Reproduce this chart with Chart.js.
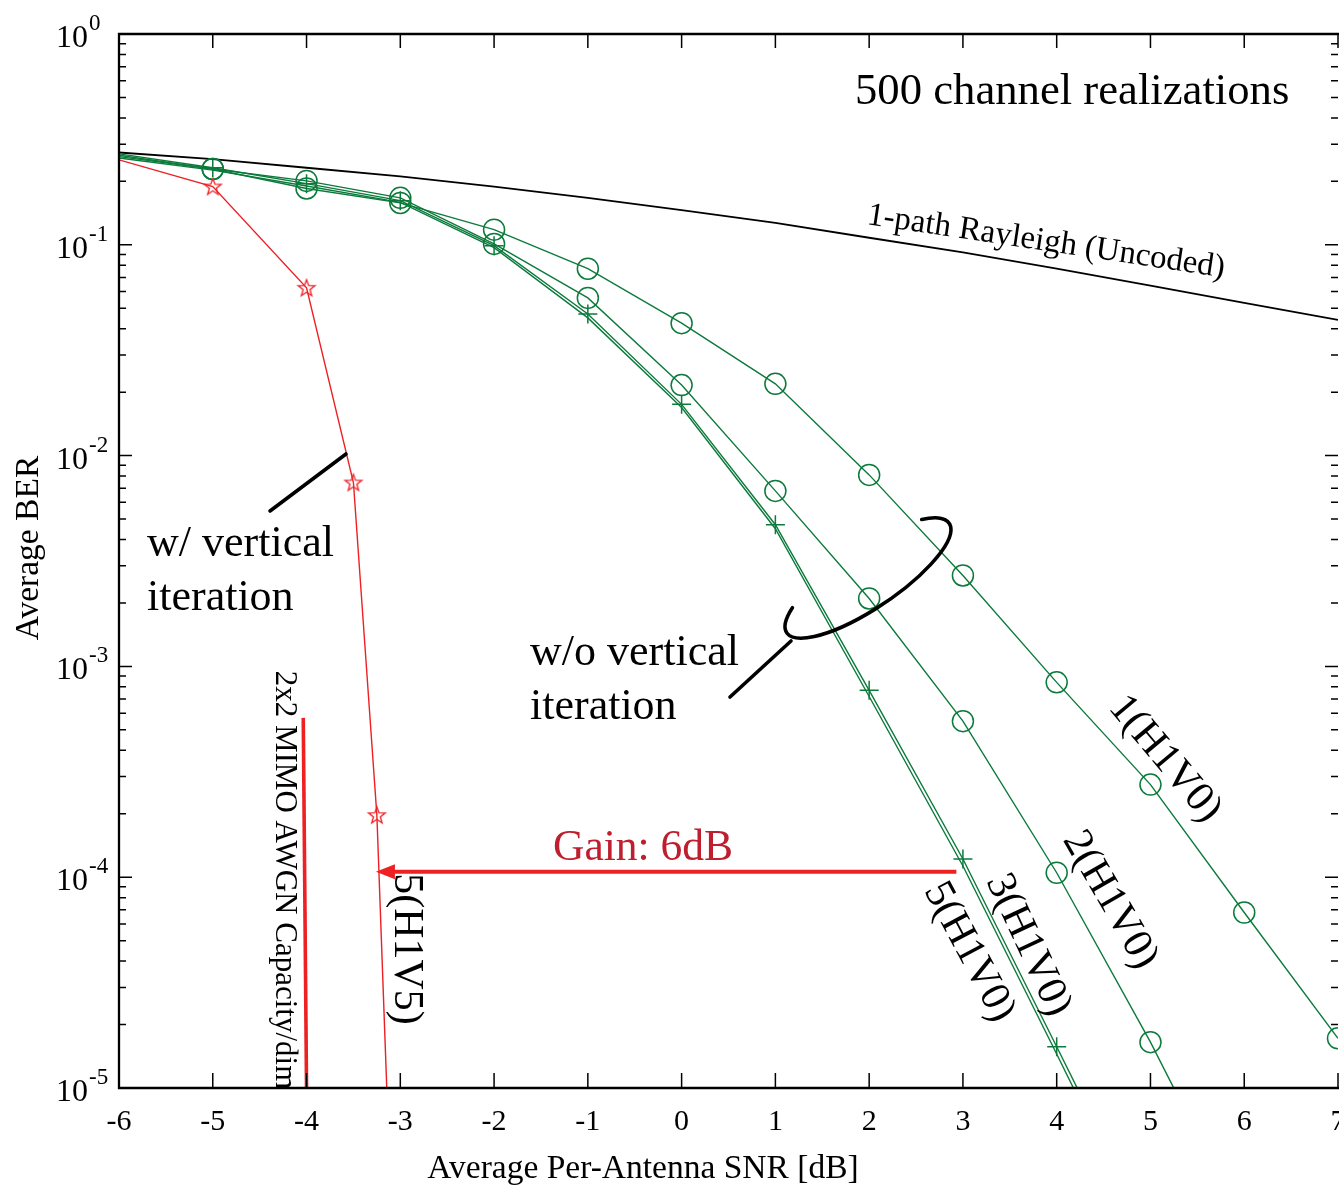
<!DOCTYPE html>
<html>
<head>
<meta charset="utf-8">
<script src="https://cdn.jsdelivr.net/npm/chart.js@4/dist/chart.umd.min.js"></script>
<style>
  html, body { margin: 0; padding: 0; background: #fff; }
  #wrap { width: 1339px; height: 1186px; }
</style>
</head>
<body>
<div id="wrap"><canvas id="c" width="1339" height="1186"></canvas></div>
<script>
// ---- data: average BER versus average per-antenna SNR [dB] ----
const snrGrid = [-6, -5, -4, -3, -2, -1, 0, 1, 2, 3, 4, 5, 6, 7];

// 1-path Rayleigh, uncoded
const berRayleigh = [0.274, 0.255, 0.232, 0.211, 0.189, 0.167, 0.146, 0.127, 0.108, 0.092, 0.077, 0.064, 0.053, 0.044];

// horizontal iterations only (H1V0), 1 / 2 / 3 / 5 iterations
const berH1V0_1 = [0.262, 0.229, 0.185, 0.158, 0.118, 0.077, 0.0425, 0.0219, 0.0081, 0.0027, 0.00084, 0.000275, 6.8e-5, 1.72e-5];
const berH1V0_2 = [0.266, 0.229, 0.201, 0.167, 0.101, 0.056, 0.0216, 0.0068, 0.0021, 0.00055, 0.000105, 1.65e-5, 2.2e-6];
const berH1V0_3 = [0.270, 0.232, 0.195, 0.162, 0.099, 0.047, 0.0175, 0.0047, 0.00077, 0.000122, 1.57e-5, 2.0e-6];
const berH1V0_5 = [0.258, 0.226, 0.190, 0.159, 0.097, 0.045, 0.0169, 0.0045, 0.00072, 0.000113, 1.45e-5, 1.8e-6];

// with vertical iterations (H1V5)
const snrH1V5 = [-6, -5, -4, -3.5, -3.25, -3];
const berH1V5 = [0.253, 0.189, 0.0625, 0.00745, 1.97e-4, 1.7e-7];

// 2x2 MIMO AWGN capacity per dimension
const snrCapacity = [-4.035, -4.0];
const berCapacity = [5.7e-4, 1e-5];

// gain arrow: from the 3(H1V0) curve to the 5(H1V5) curve at the same BER
const gainFromSnr = 2.93;
const gainToSnr = -3.26;
const gainBer = 1.06e-4;

// axes
const xTickValues = [-6, -5, -4, -3, -2, -1, 0, 1, 2, 3, 4, 5, 6, 7];
const yDecadeExponents = [0, -1, -2, -3, -4, -5];

// ---- styling ----
const SERIF = '"Liberation Serif", "Times New Roman", serif';
const GREEN = '#0b7a3b';
const RED = '#ed2024';
const DARK_RED = '#be1e2d';

const pts = (xs, ys) => ys.map((v, i) => ({ x: xs[i], y: v }));

// no marker at the left border point or below the plotted range
const markerRadius = r => ctx => (ctx.raw && ctx.raw.x > -6 && ctx.raw.y >= 1e-5) ? r : 0;

// outlined five-point star marker
function makeStar(color) {
  const c = document.createElement('canvas');
  c.width = 22; c.height = 22;
  const g = c.getContext('2d');
  const R = 8.8, r = 3.6, cx = 11, cy = 11.6;
  g.beginPath();
  for (let k = 0; k < 10; k++) {
    const rad = (k % 2 === 0) ? R : r;
    const a = -Math.PI / 2 + k * Math.PI / 5;
    const px = cx + rad * Math.cos(a), py = cy + rad * Math.sin(a);
    if (k === 0) g.moveTo(px, py); else g.lineTo(px, py);
  }
  g.closePath();
  g.strokeStyle = color;
  g.lineWidth = 1.3;
  g.stroke();
  return c;
}
const starMarker = makeStar(RED);

// ---- frame, inward ticks, tick labels, axis titles ----
const framePlugin = {
  id: 'frame',
  afterDatasetsDraw(chart) {
    const { ctx, chartArea: a, scales: { x, y } } = chart;
    ctx.save();
    ctx.strokeStyle = '#000';
    ctx.lineCap = 'butt';

    // ticks
    ctx.lineWidth = 1.5;
    ctx.beginPath();
    xTickValues.forEach(v => {
      const px = x.getPixelForValue(v);
      ctx.moveTo(px, a.top); ctx.lineTo(px, a.top + 14);
      ctx.moveTo(px, a.bottom); ctx.lineTo(px, a.bottom - 15);
    });
    yDecadeExponents.forEach(e => {
      const py = y.getPixelForValue(Math.pow(10, e));
      ctx.moveTo(a.left, py); ctx.lineTo(a.left + 13, py);
      ctx.moveTo(a.right, py); ctx.lineTo(a.right - 13, py);
      if (e < 0) {
        for (let m = 2; m <= 9; m++) {
          const pm = y.getPixelForValue(m * Math.pow(10, e));
          ctx.moveTo(a.left, pm); ctx.lineTo(a.left + 7, pm);
          ctx.moveTo(a.right, pm); ctx.lineTo(a.right - 7, pm);
        }
      }
    });
    ctx.stroke();

    // frame
    ctx.lineWidth = 2.3;
    ctx.beginPath();
    ctx.moveTo(a.right + 1, a.top); ctx.lineTo(a.left, a.top); ctx.lineTo(a.left, a.bottom); ctx.lineTo(a.right + 1, a.bottom);
    ctx.stroke();

    ctx.fillStyle = '#000';
    // x tick labels
    ctx.font = '30px ' + SERIF;
    ctx.textAlign = 'center';
    ctx.textBaseline = 'alphabetic';
    xTickValues.forEach(v => {
      ctx.fillText(String(v), x.getPixelForValue(v), 1130);
    });

    // y tick labels 10^e
    yDecadeExponents.forEach(e => {
      const py = y.getPixelForValue(Math.pow(10, e));
      ctx.font = '32px ' + SERIF;
      ctx.textAlign = 'right';
      ctx.fillText('10', 88, py + 13);
      ctx.font = '23px ' + SERIF;
      ctx.textAlign = 'left';
      ctx.fillText(e === 0 ? '0' : '-' + String(-e), 89, py - 4);
    });

    // axis titles
    ctx.font = '33.5px ' + SERIF;
    ctx.textAlign = 'center';
    ctx.fillText('Average Per-Antenna SNR [dB]', 643, 1178);
    ctx.save();
    ctx.translate(38, 548);
    ctx.rotate(-Math.PI / 2);
    ctx.fillText('Average BER', 0, 0);
    ctx.restore();

    ctx.restore();
  }
};

// ---- annotations: curve labels, pointers, gain arrow ----
function rotatedText(ctx, s, cx, cy, deg, font, color) {
  ctx.save();
  ctx.translate(cx, cy);
  ctx.rotate(deg * Math.PI / 180);
  ctx.font = font;
  ctx.fillStyle = color || '#000';
  ctx.textAlign = 'center';
  ctx.textBaseline = 'middle';
  ctx.fillText(s, 0, 0);
  ctx.restore();
}

const notesPlugin = {
  id: 'notes',
  afterDatasetsDraw(chart) {
    const { ctx, scales: { x, y } } = chart;
    ctx.save();
    ctx.fillStyle = '#000';
    ctx.textBaseline = 'alphabetic';
    ctx.textAlign = 'left';

    ctx.font = '44.7px ' + SERIF;
    ctx.fillText('500 channel realizations', 855, 104);

    rotatedText(ctx, '1-path Rayleigh (Uncoded)', 1046, 242, 8.5, '33px ' + SERIF);

    ctx.font = '44px ' + SERIF;
    ctx.textAlign = 'left';
    ctx.fillText('w/ vertical', 147, 556);
    ctx.fillText('iteration', 147, 610);
    ctx.fillText('w/o vertical', 530, 665);
    ctx.fillText('iteration', 530, 719);

    rotatedText(ctx, '1(H1V0)', 1165, 759, 50, '42px ' + SERIF);
    rotatedText(ctx, '2(H1V0)', 1110, 900, 60, '42px ' + SERIF);
    rotatedText(ctx, '3(H1V0)', 1028, 945, 65, '42px ' + SERIF);
    rotatedText(ctx, '5(H1V0)', 969, 952, 62, '42px ' + SERIF);
    rotatedText(ctx, '5(H1V5)', 406, 949, 90, '42px ' + SERIF);
    rotatedText(ctx, '2x2 MIMO AWGN Capacity/dim', 284, 880, 90, '31px ' + SERIF);

    // pointer lines and the grouping ellipse
    ctx.strokeStyle = '#000';
    ctx.lineWidth = 3.6;
    ctx.lineCap = 'round';
    ctx.beginPath();
    ctx.moveTo(270, 511); ctx.lineTo(346, 454);
    ctx.moveTo(730, 697); ctx.lineTo(791, 641);
    ctx.stroke();
    ctx.beginPath();
    ctx.ellipse(868, 578, 98, 30, -34 * Math.PI / 180, -38 * Math.PI / 180, 216 * Math.PI / 180);
    ctx.stroke();

    // gain arrow
    const ay = y.getPixelForValue(gainBer);
    const ax1 = x.getPixelForValue(gainFromSnr);
    const ax2 = x.getPixelForValue(gainToSnr);
    ctx.strokeStyle = RED;
    ctx.fillStyle = RED;
    ctx.lineWidth = 4;
    ctx.lineCap = 'butt';
    ctx.beginPath();
    ctx.moveTo(ax1, ay); ctx.lineTo(ax2 + 16, ay);
    ctx.stroke();
    ctx.beginPath();
    ctx.moveTo(ax2, ay);
    ctx.lineTo(ax2 + 19, ay - 7.5);
    ctx.lineTo(ax2 + 19, ay + 7.5);
    ctx.closePath();
    ctx.fill();

    ctx.font = '43.5px ' + SERIF;
    ctx.fillStyle = DARK_RED;
    ctx.textAlign = 'left';
    ctx.textBaseline = 'alphabetic';
    ctx.fillText('Gain: 6dB', 553, 860);

    ctx.restore();
  }
};

const lineBase = { tension: 0, fill: false, pointHoverRadius: 0 };

new Chart(document.getElementById('c'), {
  type: 'line',
  data: {
    datasets: [
      { ...lineBase, label: '2x2 MIMO AWGN Capacity/dim', data: pts(snrCapacity, berCapacity),
        borderColor: RED, borderWidth: 3.6, pointRadius: 0 },
      { ...lineBase, label: '5(H1V5)', data: pts(snrH1V5, berH1V5),
        borderColor: RED, borderWidth: 1.4, pointStyle: starMarker, pointRadius: markerRadius(8) },
      { ...lineBase, label: '1(H1V0)', data: pts(snrGrid, berH1V0_1),
        borderColor: GREEN, borderWidth: 1.4, pointStyle: 'circle', pointRadius: markerRadius(10.5),
        pointBorderColor: GREEN, pointBackgroundColor: 'rgba(0,0,0,0)', pointBorderWidth: 1.5 },
      { ...lineBase, label: '2(H1V0)', data: pts(snrGrid, berH1V0_2),
        borderColor: GREEN, borderWidth: 1.4, pointStyle: 'circle', pointRadius: markerRadius(10.5),
        pointBorderColor: GREEN, pointBackgroundColor: 'rgba(0,0,0,0)', pointBorderWidth: 1.5 },
      { ...lineBase, label: '3(H1V0)', data: pts(snrGrid, berH1V0_3),
        borderColor: GREEN, borderWidth: 1.4, pointStyle: 'cross', pointRadius: markerRadius(9.5),
        pointBorderColor: GREEN, pointBorderWidth: 1.5 },
      { ...lineBase, label: '5(H1V0)', data: pts(snrGrid, berH1V0_5),
        borderColor: GREEN, borderWidth: 1.4, pointRadius: 0 },
      { ...lineBase, label: '1-path Rayleigh (Uncoded)', data: pts(snrGrid, berRayleigh),
        borderColor: '#000', borderWidth: 1.8, pointRadius: 0 }
    ]
  },
  options: {
    responsive: false,
    animation: false,
    devicePixelRatio: 1,
    layout: { autoPadding: false, padding: { left: 119, top: 34, right: 1, bottom: 98 } },
    plugins: { legend: { display: false }, tooltip: { enabled: false } },
    events: [],
    scales: {
      x: { type: 'linear', min: -6, max: 7, display: false },
      y: { type: 'logarithmic', min: 1e-5, max: 1, display: false }
    }
  },
  plugins: [framePlugin, notesPlugin]
});
</script>
</body>
</html>
